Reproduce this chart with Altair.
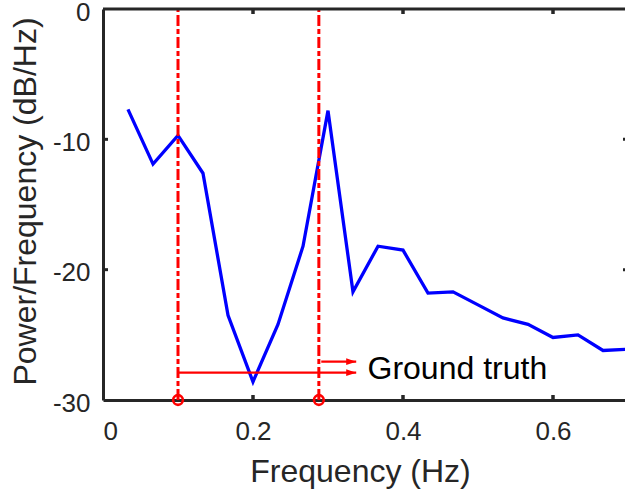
import altair as alt
import pandas as pd

# ---- data ----
freq = [0.0333, 0.0667, 0.1, 0.1333, 0.1667, 0.2, 0.2333, 0.2667, 0.3, 0.3333,
        0.3667, 0.4, 0.4333, 0.4667, 0.5, 0.5333, 0.5667, 0.6, 0.6333, 0.6667, 0.7]
psd = [-7.7, -11.9, -9.7, -12.6, -23.5, -28.6, -24.2, -18.2, -7.8, -21.7,
       -18.2, -18.5, -21.8, -21.7, -22.7, -23.7, -24.2, -25.2, -25.0, -26.2, -26.1]

marker_freq = [0.1, 0.2878]          # red dash-dot lines / circles
arrow_start = [0.1, 0.291]
arrow_end = [0.3376, 0.3376]
arrow_y = [-27.9, -27.06]
label_text = ["Ground truth"]
label_x = [0.3527]
label_y = [-28.4]

x_ticks = [0, 0.2, 0.4, 0.6]
y_ticks = [0, -10, -20, -30]

# ---- layout ----
W, H = 522, 391
XMAX = 0.696
YMIN, YMAX = -30, 0
AX = "#262626"
FONT = "Liberation Sans"
XT = "Frequency (Hz)"
YT = "Power/Frequency (dB/Hz)"

xs = alt.Scale(domain=[0, XMAX], nice=False, zero=False)
ys = alt.Scale(domain=[YMIN, YMAX], nice=False, zero=False)
xa = alt.Axis(values=x_ticks, labelExpr="'' + datum.value",
              labelPadding=18, titleY=56, titleX=257, titleBaseline="top")
ya = alt.Axis(values=y_ticks, labelExpr="'' + datum.value", labelOffset=3,
              labelPadding=13, titleX=-61, titleY=192, titleBaseline="bottom")


def X(field):
    return alt.X(field, scale=xs, axis=xa, title=XT)


def Y(field):
    return alt.Y(field, scale=ys, axis=ya, title=YT)


df = pd.DataFrame({"f": freq, "p": psd})
line = alt.Chart(df).mark_line(color="#0000FF", strokeWidth=3.3, clip=True).encode(
    x=X("f:Q"), y=Y("p:Q")
)

vdf = pd.DataFrame({"f": marker_freq, "lo": [YMIN] * len(marker_freq), "hi": [YMAX] * len(marker_freq)})
vlines = alt.Chart(vdf).mark_rule(color="#FF0000", strokeWidth=3, strokeDash=[11, 3, 5, 3]).encode(
    x=X("f:Q"), y=Y("lo:Q"), y2="hi:Q"
)

adf = pd.DataFrame({"x0": arrow_start, "x1": arrow_end, "y": arrow_y})
shafts = alt.Chart(adf).mark_rule(color="#FF0000", strokeWidth=2.2).encode(
    x=X("x0:Q"), x2="x1:Q", y=Y("y:Q")
)
heads = alt.Chart(adf).mark_point(
    shape="M0,0L-1,-0.34L-1,0.34Z", filled=True, color="#FF0000", opacity=1, size=400
).encode(x=X("x1:Q"), y=Y("y:Q"))

tdf = pd.DataFrame({"t": label_text, "x": label_x, "y": label_y})
text = alt.Chart(tdf).mark_text(align="left", baseline="alphabetic", fontSize=32,
                                font=FONT, color="#000000").encode(
    x=X("x:Q"), y=Y("y:Q"), text="t:N"
)

cdf = pd.DataFrame({"f": marker_freq, "y": [YMIN] * len(marker_freq)})
circles = alt.Chart(cdf).mark_point(shape="circle", filled=False, color="#FF0000",
                                    strokeWidth=2.6, size=95, opacity=1).encode(
    x=X("f:Q"), y=Y("y:Q")
)

# inward (MATLAB-style) tick marks
tl = 5
dx = tl * XMAX / W
dy = tl * (YMAX - YMIN) / H
inner_y = [v for v in y_ticks if YMIN < v < YMAX]
inner_x = [v for v in x_ticks if 0 < v]
ytk = pd.DataFrame({
    "a": [0] * len(inner_y) + [0.7 - dx] * len(inner_y),
    "b": [dx] * len(inner_y) + [0.7] * len(inner_y),
    "y": inner_y + inner_y,
})
xtk = pd.DataFrame({
    "x": inner_x + inner_x,
    "a": [YMIN] * len(inner_x) + [YMAX] * len(inner_x),
    "b": [YMIN + dy] * len(inner_x) + [YMAX - dy] * len(inner_x),
})
yticks_l = alt.Chart(ytk).mark_rule(color=AX, strokeWidth=3, clip=True).encode(
    x=X("a:Q"), x2="b:Q", y=Y("y:Q")
)
xticks_l = alt.Chart(xtk).mark_rule(color=AX, strokeWidth=3.5).encode(
    x=X("x:Q"), y=Y("a:Q"), y2="b:Q"
)
top_border = alt.Chart(pd.DataFrame({"y": [YMAX]})).mark_rule(color=AX, strokeWidth=3).encode(
    y=Y("y:Q"), x=alt.value(0), x2=alt.value(W)
)

chart = alt.layer(
    line, vlines, shafts, heads, text, top_border, yticks_l, xticks_l, circles
).properties(
    width=W, height=H,
    padding={"left": 103, "top": 9, "right": 0, "bottom": 93},
    autosize=alt.AutoSizeParams(type="none"),
    background="white",
).configure_view(stroke=None).configure_axis(
    grid=False, ticks=False, domainColor=AX, domainWidth=3,
    labelColor=AX, labelFont=FONT, labelFontSize=26,
    titleColor=AX, titleFont=FONT, titleFontSize=32, titleFontWeight="normal",
)

chart.save("out.html", embed_options={"renderer": "svg", "actions": False})
